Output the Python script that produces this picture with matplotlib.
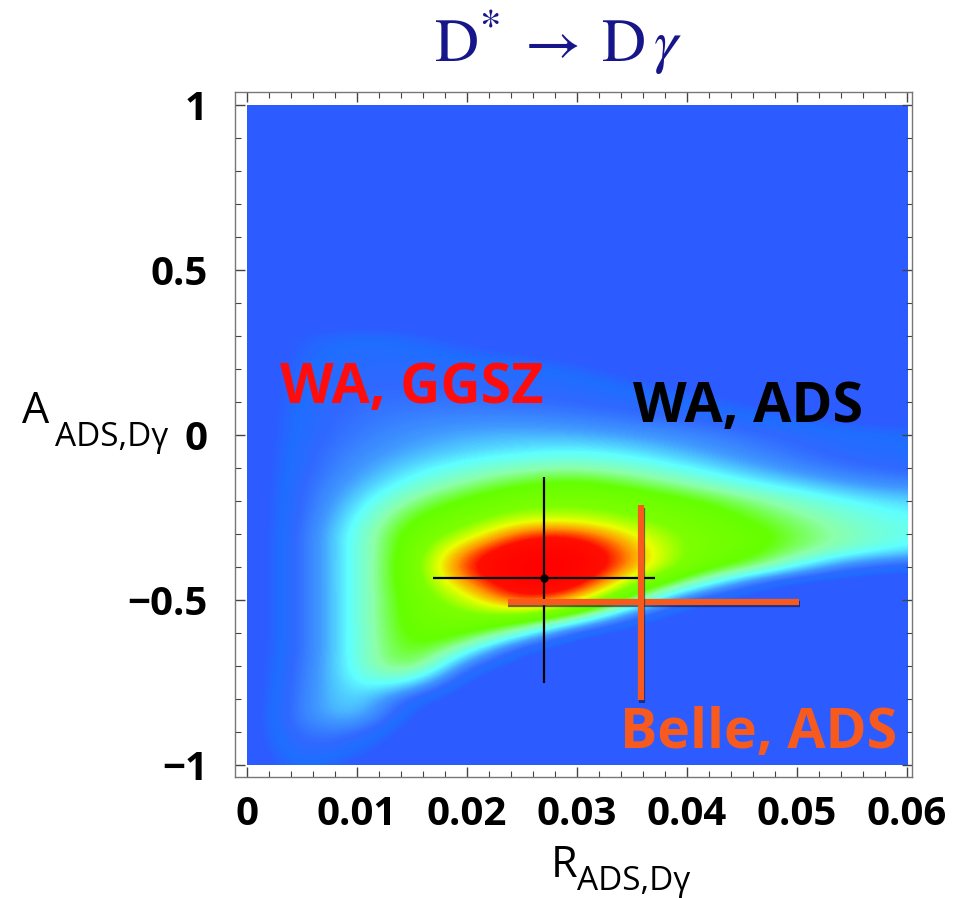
import numpy as np
import matplotlib
matplotlib.use("Agg")
import matplotlib.pyplot as plt
from matplotlib.colors import LinearSegmentedColormap
from matplotlib.patches import Rectangle
import matplotlib.patheffects as pe

# ---- data ----
r_grid = [0.000, 0.005, 0.010, 0.015, 0.020, 0.025, 0.030, 0.035, 0.040, 0.045, 0.050, 0.055, 0.060]
a_grid = [round(-1.0 + 0.05 * i, 2) for i in range(41)]   # -1.00 ... 1.00
# relative probability density (rows follow a_grid, bottom to top)
density = [
    [0, 0.10, 0.03, 0.00, 0.00, 0.00, 0.00, 0.00, 0.00, 0.00, 0.00, 0.00, 0.00],  # -1.00
    [0, 0.14, 0.08, 0.00, 0.00, 0.00, 0.00, 0.00, 0.00, 0.00, 0.00, 0.00, 0.00],  # -0.95
    [0, 0.16, 0.15, 0.00, 0.00, 0.00, 0.00, 0.00, 0.00, 0.00, 0.00, 0.00, 0.00],  # -0.90
    [0, 0.17, 0.28, 0.02, 0.00, 0.00, 0.00, 0.00, 0.00, 0.00, 0.00, 0.00, 0.00],  # -0.85
    [0, 0.16, 0.31, 0.08, 0.00, 0.00, 0.00, 0.00, 0.00, 0.00, 0.00, 0.00, 0.00],  # -0.80
    [0, 0.15, 0.32, 0.32, 0.00, 0.00, 0.00, 0.00, 0.00, 0.00, 0.00, 0.00, 0.00],  # -0.75
    [0, 0.14, 0.33, 0.52, 0.12, 0.00, 0.00, 0.00, 0.00, 0.00, 0.00, 0.00, 0.00],  # -0.70
    [0, 0.13, 0.33, 0.54, 0.35, 0.05, 0.00, 0.00, 0.00, 0.00, 0.00, 0.00, 0.00],  # -0.65
    [0, 0.13, 0.33, 0.55, 0.53, 0.35, 0.05, 0.00, 0.00, 0.00, 0.00, 0.00, 0.00],  # -0.60
    [0, 0.13, 0.33, 0.56, 0.60, 0.62, 0.45, 0.10, 0.00, 0.00, 0.00, 0.00, 0.00],  # -0.55
    [0, 0.13, 0.33, 0.56, 0.68, 0.90, 0.78, 0.45, 0.08, 0.00, 0.00, 0.00, 0.00],  # -0.50
    [0, 0.13, 0.33, 0.57, 0.80, 0.98, 0.95, 0.64, 0.42, 0.15, 0.00, 0.00, 0.00],  # -0.45
    [0, 0.13, 0.33, 0.57, 0.90, 1.00, 1.00, 0.80, 0.58, 0.48, 0.30, 0.12, 0.08],  # -0.40
    [0, 0.13, 0.33, 0.56, 0.82, 0.97, 0.97, 0.80, 0.60, 0.55, 0.44, 0.36, 0.28],  # -0.35
    [0, 0.13, 0.33, 0.55, 0.66, 0.86, 0.87, 0.72, 0.60, 0.55, 0.46, 0.38, 0.32],  # -0.30
    [0, 0.12, 0.30, 0.50, 0.58, 0.68, 0.68, 0.62, 0.57, 0.50, 0.42, 0.35, 0.30],  # -0.25
    [0, 0.12, 0.26, 0.42, 0.52, 0.58, 0.60, 0.57, 0.52, 0.44, 0.36, 0.30, 0.26],  # -0.20
    [0, 0.12, 0.22, 0.33, 0.42, 0.50, 0.53, 0.47, 0.40, 0.32, 0.26, 0.20, 0.17],  # -0.15
    [0, 0.11, 0.19, 0.27, 0.33, 0.38, 0.40, 0.36, 0.30, 0.23, 0.17, 0.13, 0.11],  # -0.10
    [0, 0.11, 0.17, 0.22, 0.26, 0.28, 0.30, 0.27, 0.22, 0.17, 0.13, 0.10, 0.09],  # -0.05
    [0, 0.10, 0.15, 0.19, 0.22, 0.23, 0.22, 0.20, 0.17, 0.14, 0.11, 0.09, 0.08],  #  0.00
    [0, 0.10, 0.14, 0.16, 0.17, 0.17, 0.16, 0.14, 0.12, 0.09, 0.06, 0.04, 0.02],  #  0.05
    [0, 0.09, 0.13, 0.14, 0.14, 0.13, 0.12, 0.10, 0.08, 0.05, 0.02, 0.00, 0.00],  #  0.10
    [0, 0.09, 0.12, 0.12, 0.12, 0.11, 0.10, 0.07, 0.04, 0.02, 0.00, 0.00, 0.00],  #  0.15
    [0, 0.08, 0.11, 0.11, 0.10, 0.09, 0.07, 0.03, 0.00, 0.00, 0.00, 0.00, 0.00],  #  0.20
    [0, 0.07, 0.10, 0.09, 0.07, 0.05, 0.02, 0.00, 0.00, 0.00, 0.00, 0.00, 0.00],  #  0.25
    [0, 0.06, 0.08, 0.07, 0.03, 0.00, 0.00, 0.00, 0.00, 0.00, 0.00, 0.00, 0.00],  #  0.30
    [0, 0.02, 0.02, 0.01, 0.00, 0.00, 0.00, 0.00, 0.00, 0.00, 0.00, 0.00, 0.00],  #  0.35
] + [[0] * 13 for _ in range(13)]                                                  #  0.40 ... 1.00

# measurements
wa_r, wa_a = 0.0270, -0.433
wa_rerr, wa_aerr_lo, wa_aerr_hi = 0.0101, 0.317, 0.306
belle_r, belle_a = 0.0358, -0.505
belle_rerr_lo, belle_rerr_hi = 0.0121, 0.0144
belle_aerr_lo, belle_aerr_hi = 0.298, 0.293

x_ticks = [0, 0.01, 0.02, 0.03, 0.04, 0.05, 0.06]
x_ticklabels = ["0", "0.01", "0.02", "0.03", "0.04", "0.05", "0.06"]
y_ticks = [-1, -0.5, 0, 0.5, 1]
y_ticklabels = ["\u22121", "\u22120.5", "0", "0.5", "1"]

# ---- figure ----
W, H, DPI = 973, 898, 100
fig = plt.figure(figsize=(W / DPI, H / DPI), dpi=DPI)
ax = fig.add_axes([235 / W, 1 - 777 / H, 677 / W, 685 / H])

cmap = LinearSegmentedColormap.from_list("dens", [
    (0.00, (44 / 255, 92 / 255, 1.0)),
    (0.05, (44 / 255, 92 / 255, 1.0)),
    (0.08, (30 / 255, 110 / 255, 1.0)),
    (0.12, (48 / 255, 104 / 255, 1.0)),
    (0.20, (65 / 255, 155 / 255, 1.0)),
    (0.30, (95 / 255, 1.0, 1.0)),
    (0.40, (140 / 255, 1.0, 170 / 255)),
    (0.50, (100 / 255, 1.0, 0.0)),
    (0.62, (125 / 255, 1.0, 0.0)),
    (0.72, (235 / 255, 1.0, 0.0)),
    (0.80, (1.0, 150 / 255, 0.0)),
    (0.88, (1.0, 15 / 255, 0.0)),
    (1.00, (1.0, 0.0, 0.0)),
])

dens = np.array(density, dtype=float)
dr = r_grid[1] - r_grid[0]
da = a_grid[1] - a_grid[0]
im = ax.imshow(dens, origin="lower", cmap=cmap, vmin=0, vmax=1,
               interpolation="bicubic", aspect="auto",
               extent=[r_grid[0] - dr / 2, r_grid[-1] + dr / 2,
                       a_grid[0] - da / 2, a_grid[-1] + da / 2])
clip = Rectangle((r_grid[0], a_grid[0]), r_grid[-1] - r_grid[0], a_grid[-1] - a_grid[0],
                 transform=ax.transData, facecolor="none", edgecolor="none")
ax.add_patch(clip)
im.set_clip_path(clip)

ax.set_xlim(-0.00109, 0.06045)
ax.set_ylim(-1.036, 1.039)

# WA cross
ax.errorbar([wa_r], [wa_a], xerr=[[wa_rerr], [wa_rerr]],
            yerr=[[wa_aerr_lo], [wa_aerr_hi]], fmt="o", color="black",
            ms=5, elinewidth=1.6, capsize=0, zorder=5)

# Belle cross
orange = (248 / 255, 90 / 255, 30 / 255)
shadow = [pe.SimpleLineShadow(offset=(0.5, -2.0), shadow_color="#101040", alpha=0.6),
          pe.Normal()]
ax.plot([belle_r - belle_rerr_lo, belle_r + belle_rerr_hi], [belle_a, belle_a],
        color=orange, lw=4.5, solid_capstyle="butt", path_effects=shadow, zorder=6)
ax.plot([belle_r, belle_r], [belle_a - belle_aerr_lo, belle_a + belle_aerr_hi],
        color=orange, lw=4.5, solid_capstyle="butt", path_effects=shadow, zorder=6)

lab_font = "Open Sans"
ax.text(0.0030, 0.097, "WA, GGSZ", color=(1.0, 0.05, 0.05), fontsize=40,
        fontweight="bold", family=lab_font, ha="left", va="baseline", zorder=7)
ax.text(0.0351, 0.039, "WA, ADS", color="black", fontsize=40,
        fontweight="bold", family=lab_font, ha="left", va="baseline", zorder=7)
ax.text(0.0339, -0.948, "Belle, ADS", color=orange, fontsize=40,
        fontweight="bold", family=lab_font, ha="left", va="baseline", zorder=7)

# ticks
ax.set_xticks(x_ticks)
ax.set_xticklabels(x_ticklabels)
ax.set_yticks(y_ticks)
ax.set_yticklabels(y_ticklabels)
ax.set_xticks(np.arange(0, 0.0601, 0.002), minor=True)
ax.set_yticks(np.arange(-1, 1.001, 0.1), minor=True)
ax.tick_params(which="both", direction="in", top=True, right=True, color="#444444")
ax.tick_params(which="major", length=7, width=1.0)
ax.tick_params(which="minor", length=4, width=0.8)
ax.tick_params(axis="x", pad=13)
ax.tick_params(axis="y", pad=19.5)
for lab in ax.get_xticklabels() + ax.get_yticklabels():
    lab.set_family(lab_font)
    lab.set_fontsize(29)
    lab.set_fontweight("bold")
for s in ax.spines.values():
    s.set_color("#777777")
    s.set_linewidth(1.0)

# axis labels
fig.text(22 / W, 1 - 423 / H, "A", fontsize=31, family=lab_font, ha="left", va="baseline")
fig.text(55 / W, 1 - 446 / H, "ADS,D\u03b3", fontsize=24, family=lab_font, ha="left", va="baseline")
fig.text(551 / W, 1 - 877 / H, "R", fontsize=31, family=lab_font, ha="left", va="baseline")
fig.text(577 / W, 1 - 890 / H, "ADS,D\u03b3", fontsize=24, family=lab_font, ha="left", va="baseline")

# title
plt.rcParams["mathtext.fontset"] = "stix"
fig.text(558 / W, 1 - 62 / H, r"$\mathrm{D}^{*}\;\rightarrow\;\mathrm{D}\,\gamma$",
         color="#16168a", fontsize=44, ha="center", va="baseline")

fig.savefig("out.png", dpi=DPI)
